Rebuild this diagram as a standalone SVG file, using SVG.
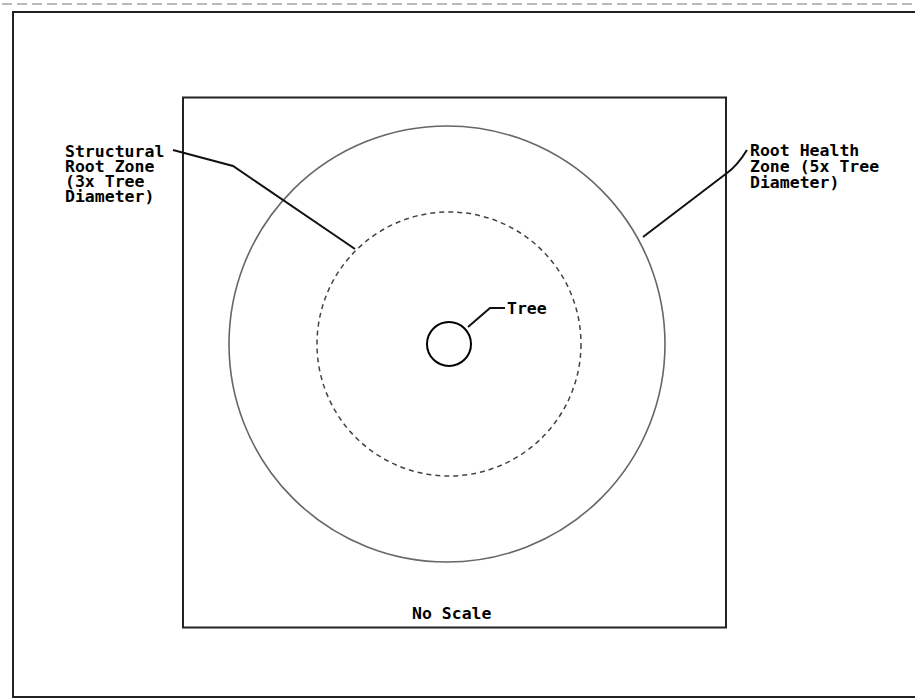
<svg xmlns="http://www.w3.org/2000/svg" width="915" height="700" viewBox="0 0 915 700">
<style>
  .lbl { font-family: "DejaVu Sans Mono", "Liberation Mono", monospace; font-weight: bold; font-size: 16.5px; fill: #000; }
  .frame { fill: none; stroke: #222; stroke-width: 2; }
  .leader { fill: none; stroke: #111; stroke-width: 2; }
</style>
<rect width="915" height="700" fill="#fff"/>
<line x1="2" y1="4" x2="915" y2="4" stroke="#777" stroke-width="1.2" stroke-dasharray="10 5"/>
<g id="outer-frame">
  <polyline class="frame" points="920,12 13,12 13,697 920,697"/>
</g>
<g id="plan-square">
  <rect class="frame" x="183" y="97.5" width="543" height="530"/>
</g>
<g id="root-health-zone">
  <circle cx="447" cy="344" r="218" fill="none" stroke="#666" stroke-width="1.6"/>
</g>
<g id="structural-root-zone">
  <circle cx="449" cy="344" r="132" fill="none" stroke="#444" stroke-width="1.5" stroke-dasharray="5 4"/>
</g>
<g id="tree">
  <circle cx="449" cy="344" r="22" fill="none" stroke="#000" stroke-width="2"/>
</g>
<g id="connectors">
  <polyline class="leader" points="173,150 233,166 355,249"/>
  <path class="leader" d="M747,150 Q737,166 727,173 L643,237"/>
  <polyline class="leader" points="468,327 490,308 505,308"/>
</g>
<g id="label-structural">
  <text class="lbl" x="65" y="157">Structural</text>
  <text class="lbl" x="65" y="172">Root Zone</text>
  <text class="lbl" x="65" y="187">(3x Tree</text>
  <text class="lbl" x="65" y="202">Diameter)</text>
</g>
<g id="label-root-health">
  <text class="lbl" x="750" y="156">Root Health</text>
  <text class="lbl" x="750" y="172">Zone (5x Tree</text>
  <text class="lbl" x="750" y="188">Diameter)</text>
</g>
<g id="label-tree">
  <text class="lbl" x="507" y="314">Tree</text>
</g>
<g id="label-scale">
  <text class="lbl" x="412" y="619">No Scale</text>
</g>
</svg>
